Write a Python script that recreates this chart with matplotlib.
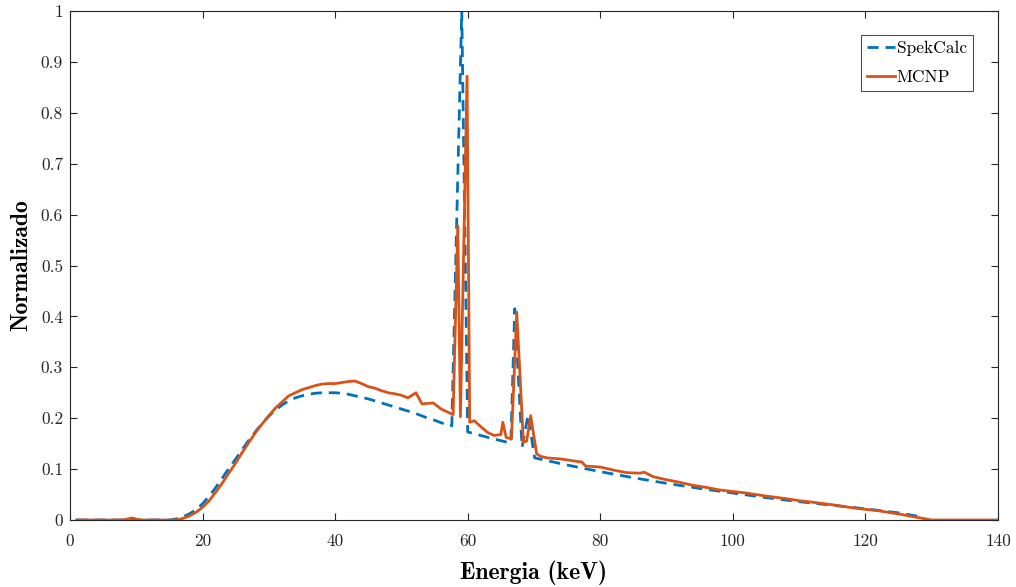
import matplotlib
matplotlib.use("Agg")
import matplotlib.pyplot as plt

# SpekCalc (dashed blue)
spek_e = [1, 15, 16, 17, 18, 19, 20, 21, 22, 23, 24, 25, 26, 27, 28, 29, 30, 31, 32, 33, 34, 35,
          36, 37, 38, 39, 40, 41, 42, 43, 44, 45, 46, 47, 48, 49, 50, 51, 52, 53, 54, 55, 56,
          57, 57.6, 59.1, 60.0, 62, 64, 66.5, 67.1, 68.2, 69.1, 70.1,
          75, 80, 85, 90, 95, 100, 105, 110, 115, 120, 125, 128.5]
spek_v = [0, 0, 0.002, 0.006, 0.012, 0.02, 0.032, 0.047, 0.064, 0.083, 0.102, 0.12, 0.139,
          0.157, 0.174, 0.19, 0.204, 0.216, 0.226, 0.234, 0.240, 0.244, 0.247, 0.249, 0.250,
          0.250, 0.250, 0.249, 0.247, 0.244, 0.241, 0.238, 0.234, 0.230, 0.226, 0.222, 0.218,
          0.214, 0.210, 0.205, 0.200, 0.196, 0.191, 0.187, 0.185, 1.0, 0.173,
          0.166, 0.159, 0.151, 0.415, 0.143, 0.206, 0.122,
          0.108, 0.095, 0.083, 0.072, 0.062, 0.053, 0.044, 0.036, 0.029, 0.022, 0.014, 0.006]

# MCNP (solid orange)
mcnp_e = [1, 8, 9.4, 10.2, 11, 16, 17, 18, 19, 20, 21, 22, 23, 24, 25, 26, 27, 28, 29, 30, 31,
          32, 33, 34, 35, 36, 37, 38, 39, 40, 41, 42, 43, 44, 45, 46, 47, 48, 49, 50, 51,
          52.2, 53.1, 54.8, 56, 57.3, 57.8, 58.5, 58.9, 59.9, 60.3, 61, 62, 63, 64, 65, 65.3,
          65.8, 66.6, 67.4, 68.4, 68.9, 69.5, 70.4, 71, 72, 74, 76, 77.2, 77.8, 80, 82, 84,
          86, 86.6, 88, 90, 92, 94, 96, 98, 100, 102, 105, 108, 110, 112, 115, 118, 120, 122,
          125, 127, 130, 140]
mcnp_v = [0, 0, 0.004, 0.001, 0, 0, 0.003, 0.008, 0.015, 0.025, 0.038, 0.055, 0.073, 0.093,
          0.112, 0.133, 0.153, 0.172, 0.189, 0.205, 0.220, 0.232, 0.244, 0.250, 0.256, 0.260,
          0.264, 0.267, 0.268, 0.268, 0.270, 0.272, 0.273, 0.268, 0.262, 0.259, 0.254, 0.250,
          0.248, 0.245, 0.240, 0.250, 0.228, 0.230, 0.218, 0.210, 0.207, 0.578, 0.203,
          0.872, 0.192, 0.195, 0.183, 0.172, 0.166, 0.168, 0.192, 0.162, 0.160, 0.408, 0.153,
          0.155, 0.205, 0.130, 0.125, 0.122, 0.120, 0.116, 0.114, 0.106, 0.104, 0.098, 0.093,
          0.092, 0.094, 0.085, 0.079, 0.074, 0.068, 0.064, 0.059, 0.056, 0.053, 0.047, 0.042,
          0.038, 0.035, 0.030, 0.024, 0.021, 0.018, 0.012, 0.007, 0, 0]

x_ticks = [0, 20, 40, 60, 80, 100, 120, 140]
x_tick_labels = ["0", "20", "40", "60", "80", "100", "120", "140"]
y_ticks = [0, 0.1, 0.2, 0.3, 0.4, 0.5, 0.6, 0.7, 0.8, 0.9, 1]
y_tick_labels = ["0", "0.1", "0.2", "0.3", "0.4", "0.5", "0.6", "0.7", "0.8", "0.9", "1"]

fig = plt.figure(figsize=(10.16, 5.87), dpi=100)
ax = fig.add_axes([70 / 1016, 1 - 520 / 587, 928 / 1016, 509 / 587])

ax.plot(spek_e, spek_v, color="#0072BD", lw=2.0, ls=(0, (4, 2.5)), label="SpekCalc")
ax.plot(mcnp_e, mcnp_v, color="#D95319", lw=2.0, label="MCNP")

ax.set_xlim(0, 140)
ax.set_ylim(0, 1)
ax.set_xticks(x_ticks)
ax.set_xticklabels(x_tick_labels, fontfamily="cmr10", fontsize=12.5)
ax.set_yticks(y_ticks)
ax.set_yticklabels(y_tick_labels, fontfamily="cmr10", fontsize=12.5)
ax.tick_params(direction="in", top=True, right=True, length=5, width=0.8, colors="#262626")
ax.tick_params(axis="x", pad=10)
ax.tick_params(axis="y", pad=5)
for s in ax.spines.values():
    s.set_color("#262626")
    s.set_linewidth(0.8)

ax.set_xlabel("Energia (keV)", fontfamily="cmb10", fontsize=17, labelpad=8)
ax.set_ylabel("Normalizado", fontfamily="cmb10", fontsize=17, labelpad=6)

leg = ax.legend(loc="upper right", bbox_to_anchor=(973 / 1016, 1 - 35 / 587),
                bbox_transform=fig.transFigure, borderaxespad=0,
                prop={"family": "cmr10", "size": 12.5},
                frameon=True, fancybox=False, edgecolor="#262626", handlelength=1.6,
                handletextpad=0.1, borderpad=0.35, labelspacing=0.75)
leg.get_frame().set_linewidth(0.8)

fig.savefig("out.png", dpi=100)
